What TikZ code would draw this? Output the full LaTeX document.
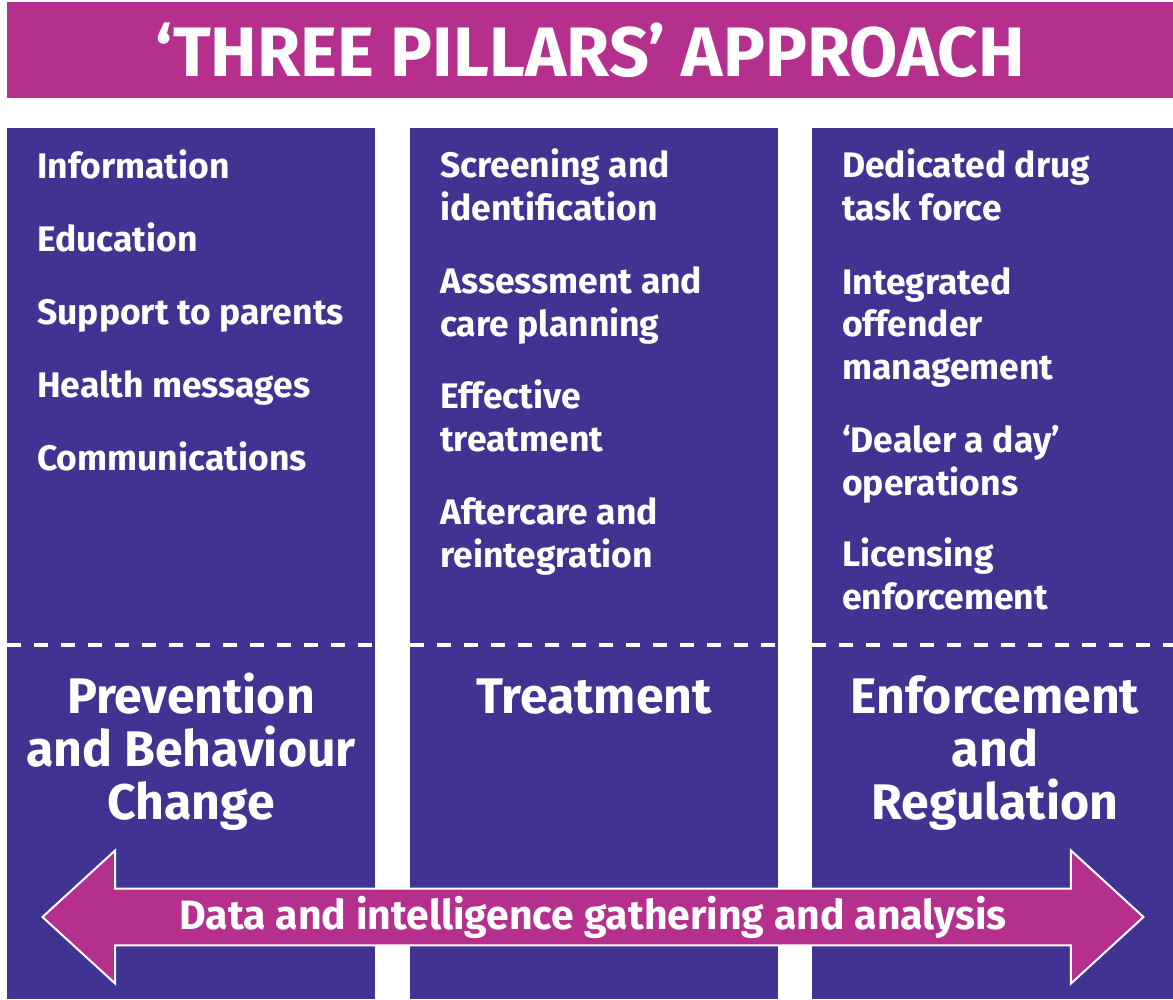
\documentclass[tikz,border=0pt]{standalone}
\usepackage{fontspec}
\setmainfont{Fira Sans}
\usetikzlibrary{shapes.arrows}
\definecolor{pillarmagenta}{RGB}{181,48,141}
\definecolor{pillarpurple}{RGB}{65,51,145}
\tikzset{
  item/.style={anchor=base west, align=left, inner sep=0pt, text=white,
    font=\bfseries\fontsize{35.5}{42.5}\selectfont},
  pillar/.style={anchor=base, align=center, inner sep=0pt, text=white,
    font=\bfseries\fontsize{50}{53}\selectfont},
  divider/.style={white, line width=4pt, dash pattern=on 14pt off 13pt}
}
\begin{document}
\begin{tikzpicture}[x=1pt,y=-1pt]
\useasboundingbox (0,0) rectangle (1173,999);

% title bar
\node[fill=pillarmagenta, minimum width=1166pt, minimum height=96pt, inner sep=0pt,
      text=white, font=\bfseries\fontsize{70}{76}\selectfont] (title) at (590,50)
      {‘THREE PILLARS’ APPROACH};

% the three pillars
\fill[pillarpurple] (7,128) rectangle (375,999);
\fill[pillarpurple] (410,128) rectangle (778,999);
\fill[pillarpurple] (812,128) rectangle (1173,999);

\draw[divider] (7,645) -- (375,645);
\draw[divider] (410,645) -- (778,645);
\draw[divider] (812,645) -- (1173,645);

% prevention (base = last line)
\node[item] (info) at (37,178) {Information};
\node[item] (edu) at (37,251) {Education};
\node[item] (parents) at (37,324) {Support to parents};
\node[item] (health) at (37,397) {Health messages};
\node[item] (comms) at (37,470) {Communications};

% treatment
\node[item] (screen) at (440,220) {Screening and\\identification};
\node[item] (assess) at (440,336) {Assessment and\\care planning};
\node[item] (effect) at (440,451) {Effective\\treatment};
\node[item] (after) at (440,567) {Aftercare and\\reintegration};

% enforcement
\node[item] (task) at (842,220) {Dedicated drug\\task force};
\node[item] (offender) at (842,379) {Integrated\\offender\\management};
\node[item] (dealer) at (842,495) {‘Dealer a day’\\operations};
\node[item] (licence) at (842,609) {Licensing\\enforcement};

% pillar names
\node[pillar] (prev) at (191,819) {Prevention\\and Behaviour\\Change};
\node[pillar] (treat) at (594,713) {Treatment};
\node[pillar] (enf) at (995,819) {Enforcement\\and\\Regulation};

% data arrow across the pillars
\node[double arrow, fill=pillarmagenta, draw=white, line width=2pt,
      minimum height=1101pt, minimum width=133pt, double arrow head extend=30pt,
      double arrow tip angle=85, inner sep=0pt, text=white,
      font=\bfseries\fontsize{41}{46}\selectfont] (data) at (593,917)
      {Data and intelligence gathering and analysis};
\end{tikzpicture}
\end{document}
